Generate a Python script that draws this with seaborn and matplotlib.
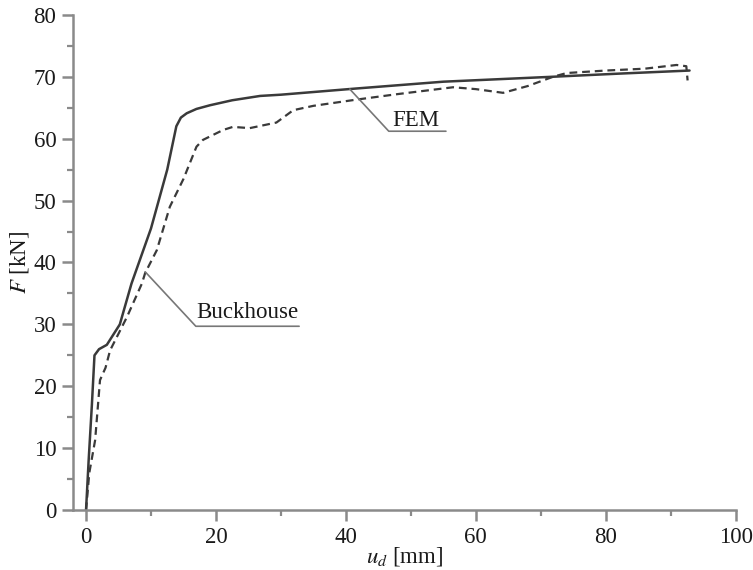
import numpy as np
import pandas as pd
import matplotlib
matplotlib.use('Agg')
import matplotlib.pyplot as plt
import seaborn as sns

# FEM curve (solid)
fem_u = [0, 0.4, 0.9, 1.3, 2.0, 3.2, 5.2, 7.0, 10.0, 12.5, 13.9, 14.6, 15.5,
         17.0, 19.1, 22.5, 26.8, 30.0, 41.6, 55.0, 71.9, 82.0, 92.9]
fem_f = [0, 8.0, 17.0, 25.0, 26.0, 26.7, 30.0, 36.6, 45.5, 55.0, 62.0, 63.4, 64.1,
         64.8, 65.4, 66.2, 66.9, 67.1, 68.1, 69.2, 70.0, 70.5, 71.0]

# Buckhouse curve (dashed)
buck_u = [0, 0.5, 1.4, 2.15, 3.0, 3.7, 5.0, 6.3, 8.6, 9.1, 10.9, 12.9, 15.0, 17.0, 18.0,
          21.1, 22.6, 25.2, 29.3, 31.9, 35.0, 41.6, 48.0, 56.5, 60.0, 64.2,
          68.0, 71.9, 74.0, 80.0, 86.0, 90.9, 92.4, 92.6]
buck_f = [0, 6.0, 11.3, 21.0, 23.0, 25.8, 28.5, 31.2, 36.6, 38.3, 42.0, 49.0, 53.5, 58.7, 59.8,
          61.4, 61.9, 61.7, 62.6, 64.6, 65.3, 66.3, 67.2, 68.3, 68.0, 67.4,
          68.5, 70.0, 70.6, 71.0, 71.3, 71.9, 71.7, 69.4]

fem = pd.DataFrame({'u': fem_u, 'F': fem_f})
buck = pd.DataFrame({'u': buck_u, 'F': buck_f})

sns.set_style('ticks')
plt.rcParams['font.family'] = ['Liberation Serif', 'DejaVu Serif']
plt.rcParams['mathtext.fontset'] = 'stix'

axis_grey = '#8a8a8a'
line_dark = '#3a3a3a'
text_col = '#1a1a1a'
fs = 16.5

fig = plt.figure(figsize=(7.53, 5.70), dpi=100)
ax = fig.add_axes([0.097, 0.105, 0.88, 0.869])

sns.lineplot(data=fem, x='u', y='F', sort=False, ax=ax, color=line_dark,
             linewidth=1.8, estimator=None)
sns.lineplot(data=buck, x='u', y='F', sort=False, ax=ax, color=line_dark,
             linewidth=1.6, linestyle=(0, (3.5, 2.2)), estimator=None)

ax.set_xlim(-2, 100)
ax.set_ylim(0, 80)
ax.set_xticks(np.arange(0, 101, 20))
ax.set_xticks(np.arange(0, 101, 10), minor=True)
ax.set_yticks(np.arange(0, 81, 10))
ax.set_yticks(np.arange(0, 81, 5), minor=True)

sns.despine(ax=ax)
for side in ['left', 'bottom']:
    ax.spines[side].set_color(axis_grey)
    ax.spines[side].set_linewidth(1.8)
ax.tick_params(which='major', direction='out', length=8, width=1.8,
               color=axis_grey, labelsize=fs, labelcolor=text_col, pad=4)
ax.tick_params(which='minor', direction='out', length=4, width=1.6,
               color=axis_grey)

ax.set_xlabel(r'$u_d$ [mm]', fontsize=fs, color=text_col, labelpad=-2)
ax.set_ylabel(r'$F$ [kN]', fontsize=fs, color=text_col, labelpad=2)

# callouts
ann_grey = '#777777'
ax.plot([40.6, 46.6, 55.4], [68.0, 61.2, 61.2], color=ann_grey, linewidth=1.2)
ax.text(47.2, 62.0, 'FEM', fontsize=fs, color=text_col, va='baseline', ha='left')
ax.plot([9.1, 16.9, 32.8], [38.5, 29.7, 29.7], color=ann_grey, linewidth=1.2)
ax.text(16.9, 31.0, 'Buckhouse', fontsize=fs, color=text_col, va='baseline', ha='left')

plt.savefig('out.png', dpi=100)
plt.close(fig)
